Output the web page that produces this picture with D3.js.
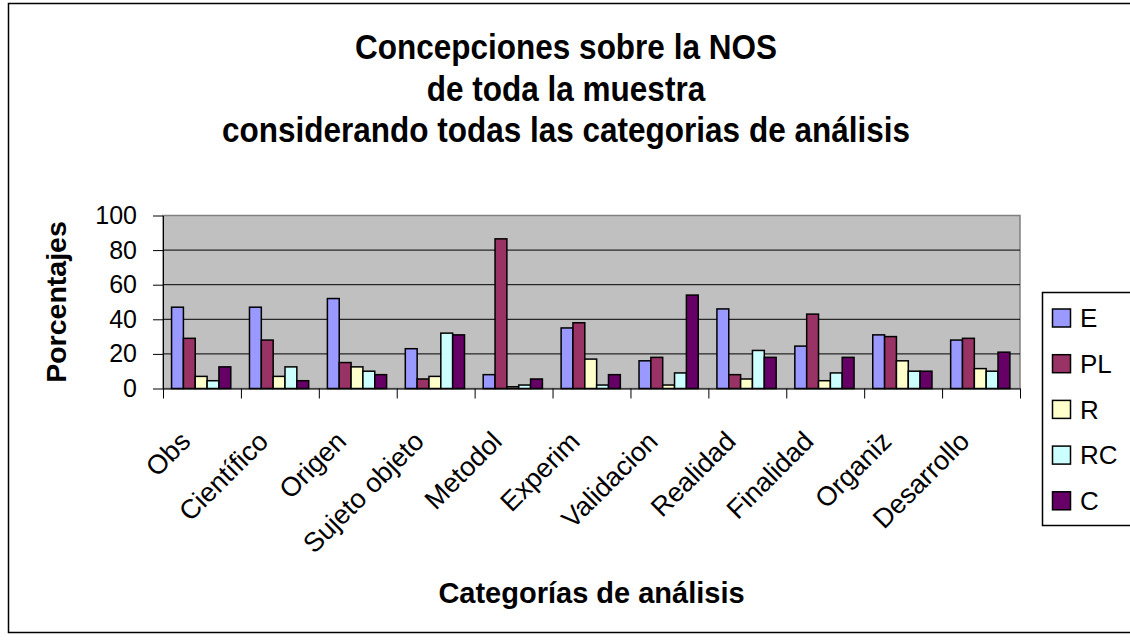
<!DOCTYPE html>
<html>
<head>
<meta charset="utf-8">
<script src="https://cdn.jsdelivr.net/npm/d3@7"></script>
<style>
  body { margin: 0; background: #fff; }
  text { font-family: "Liberation Sans", Arial, sans-serif; }
</style>
</head>
<body>
<div id="chart"></div>
<script>
// data
var categories = ["Obs", "Científico", "Origen", "Sujeto objeto", "Metodol", "Experim",
                  "Validacion", "Realidad", "Finalidad", "Organiz", "Desarrollo"];
var seriesNames = ["E", "PL", "R", "RC", "C"];
var valuesE  = [47, 47, 52, 23, 8, 35, 16, 46, 24.5, 31, 28];
var valuesPL = [29, 28, 15, 5.5, 86.5, 38, 18, 8, 43, 30, 29];
var valuesR  = [7, 7, 12.5, 7, 1, 17, 2, 5.5, 4.5, 16, 11.5];
var valuesRC = [4.5, 12.5, 10, 32, 2, 2, 9, 22, 9, 10, 10];
var valuesC  = [12.5, 4.5, 8, 31, 5.5, 8, 54, 18, 18, 10, 21];
var seriesColors = ["#9999FF", "#993366", "#FFFFCC", "#CCFFFF", "#660066"];
var yTicks = [0, 20, 40, 60, 80, 100];
var titleLines = ["Concepciones sobre la NOS", "de toda la muestra",
                  "considerando todas las categorias de análisis"];

var allValues = [valuesE, valuesPL, valuesR, valuesRC, valuesC];

var W = 1130, H = 640;
var plot = {left: 163, right: 1020, top: 215.5, bottom: 388.5};

var svg = d3.select("#chart").append("svg")
    .attr("width", W)
    .attr("height", H);

// chart border
svg.append("rect")
    .attr("x", 8.5).attr("y", 3.5)
    .attr("width", 1140).attr("height", 629)
    .attr("fill", "#fff")
    .attr("stroke", "#000")
    .attr("stroke-width", 1.5);

// title (slightly tall glyphs like the original)
svg.append("g").selectAll("text")
    .data(titleLines)
    .enter().append("text")
    .attr("transform", function(d, i) {
        return "translate(566," + (59 + i * 41.5) + ") scale(1,1.12)";
    })
    .attr("text-anchor", "middle")
    .attr("font-weight", "bold")
    .attr("font-size", "31.5px")
    .text(function(d) { return d; });

// scales
var x0 = d3.scaleBand()
    .domain(categories)
    .range([plot.left, plot.right]);
var x1 = d3.scaleBand()
    .domain(seriesNames)
    .range([x0.bandwidth() * 0.11, x0.bandwidth() * 0.87]);
var y = d3.scaleLinear()
    .domain([0, 100])
    .range([plot.bottom, plot.top]);
var xEdges = d3.scaleLinear()
    .domain([0, categories.length])
    .range([plot.left, plot.right]);

// plot area
svg.append("rect")
    .attr("x", plot.left).attr("y", plot.top)
    .attr("width", plot.right - plot.left)
    .attr("height", plot.bottom - plot.top)
    .attr("fill", "#C0C0C0")
    .attr("stroke", "#808080")
    .attr("stroke-width", 1.5);

// gridlines
svg.append("g").selectAll("line")
    .data(yTicks.filter(function(d) { return d > 0 && d < 100; }))
    .enter().append("line")
    .attr("x1", plot.left).attr("x2", plot.right)
    .attr("y1", function(d) { return y(d); })
    .attr("y2", function(d) { return y(d); })
    .attr("stroke", "#000")
    .attr("stroke-width", 1);

// bars
var groups = svg.append("g").selectAll("g")
    .data(categories)
    .enter().append("g")
    .attr("transform", function(d) { return "translate(" + x0(d) + ",0)"; });

groups.selectAll("rect")
    .data(function(d, i) {
        return seriesNames.map(function(s, j) {
            return {series: s, value: allValues[j][i], color: seriesColors[j]};
        });
    })
    .enter().append("rect")
    .attr("x", function(d) { return x1(d.series); })
    .attr("width", x1.bandwidth())
    .attr("y", function(d) { return y(d.value); })
    .attr("height", function(d) { return y(0) - y(d.value); })
    .attr("fill", function(d) { return d.color; })
    .attr("stroke", "#000")
    .attr("stroke-width", 1.5);

// y axis
var yAxis = svg.append("g")
    .attr("transform", "translate(" + plot.left + ",0)")
    .call(d3.axisLeft(y).tickValues(yTicks).tickSize(10).tickSizeOuter(0).tickPadding(16));
yAxis.selectAll("text")
    .attr("font-size", "25px")
    .attr("font-family", "Liberation Sans, Arial, sans-serif")
    .attr("fill", "#000");
yAxis.selectAll("line, path").attr("stroke", "#000");

// x axis (ticks on category edges)
var xAxis = svg.append("g")
    .attr("transform", "translate(0," + plot.bottom + ")")
    .call(d3.axisBottom(xEdges).tickValues(d3.range(categories.length + 1))
        .tickFormat("").tickSize(10).tickSizeOuter(0));
xAxis.selectAll("line, path").attr("stroke", "#000");

// rotated category labels
svg.append("g").selectAll("text")
    .data(categories)
    .enter().append("text")
    .attr("transform", function(d) {
        return "translate(" + (x0(d) + x0.bandwidth() / 2 - 10) + ",443) rotate(-45)";
    })
    .attr("text-anchor", "end")
    .attr("font-size", "27px")
    .text(function(d) { return d; });

// axis titles
svg.append("text")
    .attr("transform", "translate(66," + ((plot.top + plot.bottom) / 2) + ") rotate(-90)")
    .attr("text-anchor", "middle")
    .attr("font-weight", "bold")
    .attr("font-size", "28.5px")
    .text("Porcentajes");

svg.append("text")
    .attr("x", (plot.left + plot.right) / 2)
    .attr("y", 603)
    .attr("text-anchor", "middle")
    .attr("font-weight", "bold")
    .attr("font-size", "29px")
    .text("Categorías de análisis");

// legend
var legend = svg.append("g");
legend.append("rect")
    .attr("x", 1042.5).attr("y", 292.5)
    .attr("width", 120).attr("height", 233)
    .attr("fill", "#fff")
    .attr("stroke", "#000")
    .attr("stroke-width", 1.5);
var items = legend.selectAll("g.item")
    .data(seriesNames)
    .enter().append("g")
    .attr("class", "item")
    .attr("transform", function(d, i) { return "translate(0," + (318 + i * 45.7) + ")"; });
items.append("rect")
    .attr("x", 1052.5).attr("y", -9)
    .attr("width", 18).attr("height", 18)
    .attr("fill", function(d, i) { return seriesColors[i]; })
    .attr("stroke", "#000")
    .attr("stroke-width", 1.5);
items.append("text")
    .attr("x", 1080)
    .attr("y", 0)
    .attr("dy", "0.36em")
    .attr("font-size", "26px")
    .text(function(d) { return d; });
</script>
</body>
</html>
